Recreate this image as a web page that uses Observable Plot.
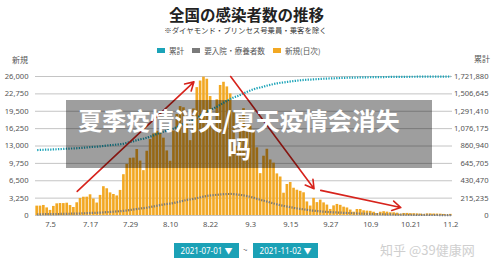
<!DOCTYPE html>
<html>
<head>
<meta charset="utf-8">
<script src="https://cdn.jsdelivr.net/npm/d3@7"></script>
<script src="https://cdn.jsdelivr.net/npm/@observablehq/plot@0.6"></script>
<style>
  body { margin:0; width:500px; height:269px; position:relative; overflow:hidden; background:#fff;
         font-family:"Noto Sans","Noto Sans CJK JP",sans-serif; }
  .abs { position:absolute; white-space:nowrap; }
  #title { top:5px; left:0; width:493px; text-align:center; font-family:"Noto Sans CJK JP"; font-weight:bold; font-size:15.5px; line-height:18px; color:#222; }
  #subtitle { top:25px; left:0; width:491px; text-align:center; font-family:"Noto Sans CJK JP"; font-size:7.4px; line-height:10px; color:#333; }
  #legend { top:45px; left:157px; font-family:"Noto Sans CJK JP"; font-size:7.6px; line-height:11px; color:#555; display:flex; align-items:center; }
  #legend span.sw { display:inline-block; width:8px; height:5px; margin-right:4px; }
  #legend span.it { margin-right:8px; }
  .axt { font-family:"Noto Sans CJK JP"; font-size:8px; color:#555; line-height:10px; }
  #chart { top:56px; left:0; }
  #shade { left:66px; top:100px; width:366px; height:68px; background:rgba(0,0,0,0.38); }
  #headline { left:66px; top:106px; width:346px; text-align:center; color:#fff; font-family:"Noto Sans CJK SC"; font-weight:bold; font-size:24px; line-height:28px; white-space:normal; }
  .pick { top:243px; height:15px; width:65px; background:#1ba1b6; color:#fff; font-size:8px; line-height:15px; text-align:center; }
  #wm { left:380px; top:241px; font-family:"Noto Sans CJK SC"; font-size:13px; line-height:18px; color:#cfcfcf; }
</style>
</head>
<body>
<div id="title" class="abs">全国の感染者数の推移</div>
<div id="subtitle" class="abs">※ダイヤモンド・プリンセス号乗員・乗客を除く</div>
<div id="legend" class="abs"></div>
<div class="abs axt" style="left:12px;top:55px;">新規</div>
<div class="abs axt" style="left:474px;top:54px;">累計</div>
<div id="chart" class="abs"></div>
<div id="shade" class="abs"></div>
<div id="headline" class="abs">夏季疫情消失/夏天疫情会消失<br>吗</div>
<div class="abs pick" style="left:174px;">2021-07-01 ▼</div>
<div class="abs axt" style="left:243px;top:245px;">~</div>
<div class="abs pick" style="left:253px;">2021-11-02 ▼</div>
<div id="wm" class="abs">知乎 @39健康网</div>
<script>
// ---- data ----
const startDate = "2021-07-01";
const endDate = "2021-11-02";

const seriesNames = ["累計", "要入院・療養者数", "新規(日次)"];
const seriesColors = ["#1ba3b8", "#7a7a7a", "#f2a823"];

// 新規(日次) daily new cases
const newCases = [
  1754,1759,1880,1420,950,1700,2180,2240,2230,2300,1860,1500,2380,3190,3420,3430,3870,3090,2330,3760,5390,5000,4230,3930,3660,4690,7630,9570,10700,10740,12340,
  10180,8390,12020,14210,15260,15750,15740,14470,12080,10150,15810,18890,20370,20150,17300,14000,19930,23920,25150,25880,25490,22250,16580,21650,24320,24920,24050,22750,19290,12920,18340,
  19990,16900,16720,15500,12660,7830,11090,12390,10390,9790,7780,7200,4170,5800,6170,5100,4730,4530,4250,2540,1770,3200,2410,2880,2360,1950,1130,1800,2070,1900,
  1560,1410,1020,620,1120,1120,880,820,780,610,370,610,710,630,510,510,430,230,380,390,340,330,300,260,150,300,300,280,270,250,200,
  86,210
];
// 要入院・療養者数 (thousands)
const inCareK = [
  15,15,16,16,16,17,18,19,20,21,22,22,23,25,27,29,31,33,34,36,39,42,45,48,51,54,58,63,69,75,81,
  87,92,98,105,113,121,129,137,143,148,156,165,175,185,194,200,208,217,226,235,243,249,252,257,261,264,266,267,265,260,255,
  248,240,230,218,205,193,183,172,160,148,137,127,118,110,102,94,87,81,75,69,63,59,55,51,47,44,41,39,37,35,
  33,31,29,27,25,24,22,21,20,18,17,16,15,14,13,12,11,10,10,9,9,8,8,7,7,7,6,6,6,5,5,
  5,5
];
// 累計 cumulative (thousands)
const cumulativeK = [
  811.0,812.8,814.6,816.1,817.0,818.7,820.9,823.1,825.4,827.7,829.5,831.0,833.4,836.6,840.0,843.4,847.3,850.4,852.7,856.5,861.9,866.9,871.1,875.0,878.7,883.4,891.0,900.6,911.3,922.0,934.4,
  944.6,953.0,965.0,979.2,994.5,1010.2,1026.0,1040.4,1052.5,1062.7,1078.5,1097.4,1117.7,1137.9,1155.2,1169.2,1189.1,1213.0,1238.2,1264.0,1289.5,1311.8,1328.4,1350.0,1374.3,1399.3,1423.3,1446.0,1465.3,1478.3,1496.6,
  1516.6,1533.5,1550.2,1565.7,1578.4,1586.2,1597.3,1609.7,1620.1,1629.9,1637.7,1644.9,1649.0,1654.8,1661.0,1666.1,1670.8,1675.3,1679.6,1682.1,1683.9,1687.1,1689.5,1692.4,1694.7,1696.7,1697.8,1699.6,1701.7,1703.6,
  1705.2,1706.6,1707.6,1708.2,1709.3,1710.4,1711.3,1712.1,1712.9,1713.5,1713.9,1714.5,1715.2,1715.8,1716.3,1716.8,1717.3,1717.5,1717.9,1718.3,1718.6,1718.9,1719.2,1719.5,1719.6,1719.9,1720.2,1720.5,1720.8,1721.0,1721.2,
  1721.3,1721.88
];

const leftTicks = [0,3250,6500,9750,13000,16250,19500,22750,26000];
const leftLabels = ["0","3,250","6,500","9,750","13,000","16,250","19,500","22,750","26,000"];
const rightLabels = ["0","215,235","430,470","645,705","860,940","1,076,175","1,291,410","1,506,645","1,721,880"];
const rightMax = 1721880;
const leftMax = 26000;

const xTickDates = ["2021-07-05","2021-07-17","2021-07-29","2021-08-10","2021-08-22","2021-09-03","2021-09-15","2021-09-27","2021-10-09","2021-10-21","2021-11-02"];
const xTickLabels = ["7.5","7.17","7.29","8.10","8.22","9.3","9.15","9.27","10.9","10.21","11.2"];

// annotation arrows (date, new-case value)
const arrowFromDate = ["2021-07-13","2021-08-28","2021-09-24"];
const arrowFromVal  = [4500, 26000, 4700];
const arrowToDate   = ["2021-08-17","2021-09-22","2021-10-18"];
const arrowToVal    = [25000, 5000, 1500];

// ---- build ----
const days = d3.utcDay.range(new Date(startDate), d3.utcDay.offset(new Date(endDate), 1));
const rows = days.map((d, i) => ({
  date: d,
  newCases: newCases[i],
  inCare: inCareK[i] * 1000,
  cumulative: cumulativeK[i] * 1000
}));
const toLeft = v => v * leftMax / rightMax;
const half = 12 * 3600 * 1000;
const xTicks = xTickDates.map(s => new Date(s));
const arrows = arrowFromDate.map((s, i) => ({
  x1: new Date(s), y1: arrowFromVal[i], x2: new Date(arrowToDate[i]), y2: arrowToVal[i]
}));

// legend
const lg = document.getElementById("legend");
seriesNames.forEach((n, i) => {
  lg.insertAdjacentHTML("beforeend", `<span class="sw" style="background:${seriesColors[i]}"></span><span class="it">${n}</span>`);
});

const chart = Plot.plot({
  width: 500,
  height: 180,
  marginTop: 20,
  marginBottom: 21,
  marginLeft: 35,
  marginRight: 48,
  style: { fontSize: "7.6px", fontFamily: "'Noto Sans', sans-serif", color: "#555", background: "transparent", overflow: "visible" },
  x: { type: "utc", domain: [new Date(+new Date(startDate) - half), new Date(+new Date(endDate) + half)], axis: null },
  y: { domain: [0, leftMax], axis: null },
  marks: [
    Plot.gridY(leftTicks, { stroke: "#c4c4c4", strokeOpacity: 1, strokeWidth: 1 }),
    Plot.rectY(rows, {
      x1: d => new Date(+d.date - half),
      x2: d => new Date(+d.date + half),
      y: "newCases",
      fill: seriesColors[2],
      insetLeft: 0.35, insetRight: 0.35
    }),
    Plot.line(rows, { x: "date", y: d => toLeft(d.inCare), stroke: seriesColors[1], strokeWidth: 2.2, strokeDasharray: "1.3 1.3", strokeLinecap: "butt" }),
    Plot.line(rows, { x: "date", y: d => toLeft(d.cumulative), stroke: seriesColors[0], strokeWidth: 2.2, strokeDasharray: "1.3 1.3", strokeLinecap: "butt" }),
    Plot.arrow(arrows, { x1: "x1", y1: "y1", x2: "x2", y2: "y2", stroke: "#d7231c", strokeWidth: 1.6, headLength: 9 }),
    Plot.axisY(leftTicks, { anchor: "left", tickSize: 0, tickPadding: 7, label: null, tickFormat: d => leftLabels[leftTicks.indexOf(d)] }),
    Plot.axisY(leftTicks, { anchor: "right", tickSize: 0, tickPadding: 36, textAnchor: "end", label: null, tickFormat: d => rightLabels[leftTicks.indexOf(d)] }),
    Plot.axisX(xTicks, { anchor: "bottom", tickSize: 0, tickPadding: 6, label: null, tickFormat: d => xTickLabels[xTicks.findIndex(t => +t === +d)] })
  ]
});
document.getElementById("chart").appendChild(chart);
</script>
</body>
</html>
